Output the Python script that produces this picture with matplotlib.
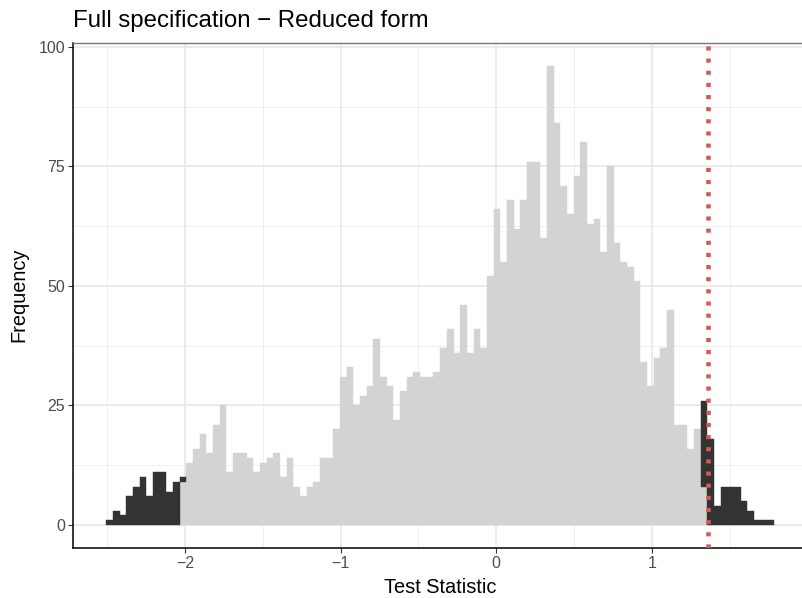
import numpy as np
import matplotlib.pyplot as plt
from matplotlib.ticker import MultipleLocator

# --- datos ---
bin_start = -2.505
bin_width = 0.0429
critical_value = 1.36

# parte central (gris)
grey_counts = [0] * 11 + [
    9, 13, 16, 19, 15, 21, 25, 11, 15, 15,
    14, 11, 13, 14, 15, 10, 14, 8, 6, 8,
    9, 14, 14, 20, 31, 33, 25, 27, 29, 39,
    31, 29, 22, 28, 31, 32, 31, 31, 32, 37,
    41, 36, 46, 36, 41, 37, 52, 66, 55, 68,
    62, 68, 76, 76, 60, 96, 84, 71, 65, 73,
    80, 63, 64, 57, 75, 59, 55, 54, 51, 34,
    29, 35, 37, 45, 21, 21, 16, 20, 8,
] + [0] * 10

# colas (negro)
tail_counts = [1, 3, 2, 6, 8, 10, 6, 11, 11, 7, 9, 1] + [0] * 77 + [
    18, 18, 4, 8, 8, 8, 5, 3, 1, 1, 1,
]

x_ticks = [-2, -1, 0, 1]
y_ticks = [0, 25, 50, 75, 100]

plt.rcParams['font.family'] = ['Liberation Sans', 'DejaVu Sans']

n_bins = len(grey_counts)
edges = bin_start + bin_width * np.arange(n_bins + 1)
centers = (edges[:-1] + edges[1:]) / 2

W, H = 803, 598
fig = plt.figure(figsize=(W / 100, H / 100), dpi=100)
ax = fig.add_axes([73 / W, (H - 548) / H, (807 - 73) / W, 505 / H])

_, _, patches = ax.hist([centers, centers], bins=edges,
                        weights=[grey_counts, tail_counts], stacked=True,
                        color=['#d3d3d3', '#333333'], rwidth=1.0, zorder=2)
# sin bordes en barras vacias, borde del mismo color en las demas
for grupo, col in zip(patches, ['#d3d3d3', '#333333']):
    for p in grupo:
        if p.get_height() == 0:
            p.set_visible(False)
        else:
            p.set_edgecolor(col)
            p.set_linewidth(0.3)

ax.axvline(critical_value, color='#cd5c5c', lw=3.3,
           linestyle=(0, (0.9, 1.75)), dash_capstyle='butt', zorder=3)

ax.set_xlim(-2.719, 1.997)
ax.set_ylim(-4.8, 100.8)
ax.set_xticks(x_ticks)
ax.set_yticks(y_ticks)
ax.xaxis.set_minor_locator(MultipleLocator(0.5))
ax.yaxis.set_minor_locator(MultipleLocator(12.5))
ax.set_axisbelow(True)
ax.grid(which='major', color='#e8e8e8', lw=1.2)
ax.grid(which='minor', color='#ececec', lw=0.6)

ax.tick_params(which='major', length=3.5, width=0.8, color='#333333',
               labelcolor='#4d4d4d', labelsize=11.5, pad=2)
ax.tick_params(which='minor', length=0)

for s in ['left', 'bottom']:
    ax.spines[s].set_color('black')
    ax.spines[s].set_linewidth(1.1)
ax.spines['top'].set_color('#777777')
ax.spines['top'].set_linewidth(1.0)
ax.spines['right'].set_visible(False)

fig.text(73 / W, 1 - 27 / H, 'Full specification \u2212 Reduced form',
         fontsize=17.3, ha='left', va='baseline')
fig.text(440 / W, 1 - 593 / H, 'Test Statistic', fontsize=14.4,
         ha='center', va='baseline')
fig.text(19 / W, 1 - 295 / H, 'Frequency', fontsize=14.4, rotation=90,
         ha='center', va='center')

fig.savefig('out.png', dpi=100)
